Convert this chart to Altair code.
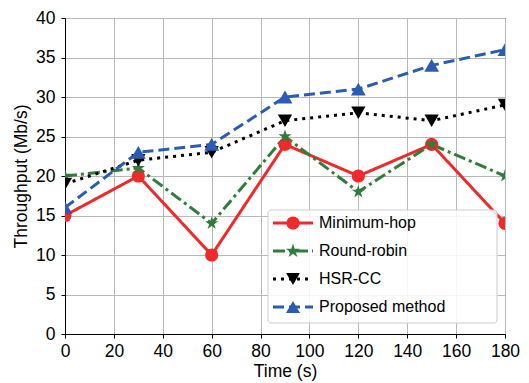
import altair as alt
import pandas as pd

time = [0, 30, 60, 90, 120, 150, 180]
series_names = ["Minimum-hop", "Round-robin", "HSR-CC", "Proposed method"]
minimum_hop = [15, 20, 10, 24, 20, 24, 14]
round_robin = [20, 21, 14, 25, 18, 24, 20]
hsr_cc = [19, 22, 23, 27, 28, 27, 29]
proposed = [16, 23, 24, 30, 31, 34, 36]
x_ticks = list(range(0, 181, 20))
y_ticks = list(range(0, 41, 5))

STAR = ("M0,-1L0.2245,-0.309L0.951,-0.309L0.363,0.118L0.588,0.809L0,0.382"
        "L-0.588,0.809L-0.363,0.118L-0.951,-0.309L-0.2245,-0.309Z")
colors = ["#ee2a2a", "#2e7d3a", "#000000", "#2a5cb4"]
dashes = [[1, 0], [12, 4, 3, 4], [3, 5], [11, 5]]
shapes = ["circle", STAR, "triangle-down", "triangle-up"]
sizes = [175, 220, 190, 200]

rows = []
for name, vals in zip(series_names, [minimum_hop, round_robin, hsr_cc, proposed]):
    for t, v in zip(time, vals):
        rows.append({"time": t, "value": v, "series": name})
df = pd.DataFrame(rows)

FONT = "Liberation Sans"

x = alt.X("time:Q", title="Time (s)",
          scale=alt.Scale(domain=[0, 180], nice=False),
          axis=alt.Axis(values=x_ticks, format="d", labelPadding=4, titlePadding=3))
y = alt.Y("value:Q", title="Throughput (Mb/s)",
          scale=alt.Scale(domain=[0, 40], nice=False),
          axis=alt.Axis(values=y_ticks, format="d", labelPadding=6, titlePadding=5))
color = alt.Color("series:N", scale=alt.Scale(domain=series_names, range=colors), legend=None)
dash = alt.StrokeDash("series:N", scale=alt.Scale(domain=series_names, range=dashes), legend=None)
shape = alt.Shape("series:N", scale=alt.Scale(domain=series_names, range=shapes), legend=None)
size = alt.Size("series:N", scale=alt.Scale(domain=series_names, range=sizes), legend=None)

lines = alt.Chart(df).mark_line(strokeWidth=3, clip=True).encode(
    x=x, y=y, color=color, strokeDash=dash, order="time:Q")
points = alt.Chart(df).mark_point(filled=True, opacity=1, clip=True).encode(
    x=x, y=y, color=color, shape=shape, size=size)

layers = [lines, points]

# legend
box_df = pd.DataFrame({"k": [0]})
layers.append(alt.Chart(box_df).mark_rect(
    fill="white", fillOpacity=0.85, stroke="#cccccc", strokeWidth=1, cornerRadius=3).encode(
    x=alt.value(203), x2=alt.value(432), y=alt.value(192), y2=alt.value(305)))
for i, name in enumerate(series_names):
    yy = 205 + 28 * i
    ent = pd.DataFrame({"label": [name]})
    layers.append(alt.Chart(ent).mark_rule(strokeWidth=3, color=colors[i], strokeDash=dashes[i]).encode(
        x=alt.value(208), x2=alt.value(248), y=alt.value(yy)))
    layers.append(alt.Chart(ent).mark_point(filled=True, opacity=1, size=sizes[i], color=colors[i],
                                            shape=shapes[i]).encode(
        x=alt.value(228), y=alt.value(yy)))
    layers.append(alt.Chart(ent).mark_text(align="left", baseline="middle", font=FONT, fontSize=16,
                                           color="black").encode(
        x=alt.value(254), y=alt.value(yy), text="label:N"))

chart = alt.layer(*layers).properties(
    width=440, height=316,
    autosize=alt.AutoSizeParams(type="none"),
    padding={"left": 57, "top": 10, "right": 16, "bottom": 48},
).configure_view(
    stroke="black", strokeWidth=1
).configure_axis(
    grid=True, gridColor="#b8b8b8", gridWidth=1,
    domainColor="black", domainWidth=1,
    tickColor="black", tickSize=4,
    labelFont=FONT, labelFontSize=17.5, labelColor="black",
    titleFont=FONT, titleFontSize=17.5, titleColor="black", titleFontWeight="normal",
).configure_axisX(labelFlush=False)

chart.save("out.html", embed_options={"renderer": "svg", "actions": False})
